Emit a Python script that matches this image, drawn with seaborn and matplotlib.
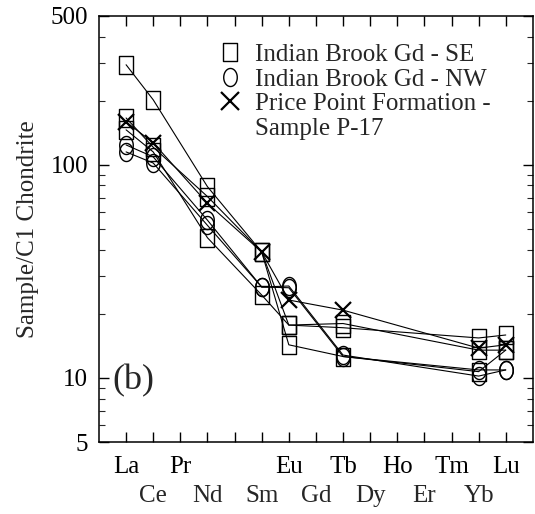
import numpy as np
import pandas as pd
import matplotlib
matplotlib.use("Agg")
import matplotlib.pyplot as plt
from matplotlib.path import Path
from matplotlib.lines import Line2D
import seaborn as sns

# ---- data ----
elements = ["La", "Ce", "Pr", "Nd", "Pm", "Sm", "Eu", "Gd", "Tb", "Dy", "Ho", "Er", "Tm", "Yb", "Lu"]
top_row_labels = ["La", "", "Pr", "", "", "", "Eu", "", "Tb", "", "Ho", "", "Tm", "", "Lu"]
bottom_row_labels = ["Ce", "Nd", "Sm", "Gd", "Dy", "Er", "Yb"]
measured = ["La", "Ce", "Nd", "Sm", "Eu", "Tb", "Yb", "Lu"]

se_a = [295, 202, 79, 39, 17.7, 17.2, 15.4, 15.9]
se_b = [166, 121, 71, 39, 14.3, 12.6, 10.7, 13.5]
se_c = [146, 115, 45.5, 24.5, 17.7, 18.0, 13.5, 13.5]
nw_1 = [124, 109, 55, 26.7, 26.5, 12.6, 10.9, 10.9]
nw_2 = [115, 102, 52, 26.7, 27.0, 12.8, 10.2, 10.9]
pp_17 = [159, 127, 66, 39, 23.2, 20.8, 13.8, 14.3]

groups = ["Indian Brook Gd - SE", "Indian Brook Gd - NW", "Price Point Formation -"]
samples = {
    "SE-a": (groups[0], se_a),
    "SE-b": (groups[0], se_b),
    "SE-c": (groups[0], se_c),
    "NW-1": (groups[1], nw_1),
    "NW-2": (groups[1], nw_2),
    "P-17": (groups[2], pp_17),
}

rows = []
for name, (grp, vals) in samples.items():
    for el, v in zip(measured, vals):
        rows.append({"sample": name, "group": grp, "pos": elements.index(el) + 1, "value": v})
df = pd.DataFrame(rows)

# ---- style ----
sns.set_style("ticks")
plt.rcParams["font.family"] = ["Liberation Serif", "DejaVu Serif"]

rect = Path([(-0.8, -1), (0.8, -1), (0.8, 1), (-0.8, 1), (-0.8, -1)],
            [Path.MOVETO, Path.LINETO, Path.LINETO, Path.LINETO, Path.CLOSEPOLY])
t = np.linspace(0, 2 * np.pi, 60)
ell = Path(np.column_stack([0.75 * np.cos(t), np.sin(t)]))

marker_for = {groups[0]: rect, groups[1]: ell, groups[2]: "x"}
size_for = {groups[0]: 13, groups[1]: 13, groups[2]: 11}
mew_for = {groups[0]: 1.0, groups[1]: 1.0, groups[2]: 1.6}

fig = plt.figure(figsize=(5.35, 5.14), dpi=100)
ax = fig.add_axes([0.185, 0.140, 0.811, 0.829])

for grp in groups:
    sub = df[df["group"] == grp]
    sns.lineplot(data=sub, x="pos", y="value", units="sample", estimator=None,
                 sort=False, color="black", lw=0.8, marker=marker_for[grp],
                 markersize=size_for[grp], markerfacecolor="none",
                 markeredgecolor="black", markeredgewidth=mew_for[grp],
                 legend=False, ax=ax)

ax.set_yscale("log")
ax.set_ylim(5, 500)
ax.set_xlim(0, 16)
ax.set_yticks([5, 10, 100, 500])
ax.set_yticklabels(["5", "10", "100", "500"])
ax.yaxis.set_minor_formatter(matplotlib.ticker.NullFormatter())

# x: major ticks at every element (top-row labels), minor ticks carry bottom-row labels
ax.xaxis.remove_overlapping_locs = False
ax.set_xticks(range(1, 16))
ax.set_xticklabels(top_row_labels)
ax.set_xticks([2, 4, 6, 8, 10, 12, 14], minor=True)
ax.set_xticklabels(bottom_row_labels, minor=True)
ax.set_xlabel("")
ax.set_ylabel("Sample/C1 Chondrite", fontsize=18, labelpad=8)

ax.tick_params(axis="both", which="major", direction="in", top=True, right=True,
               labelsize=18, length=7, width=1, pad=8, colors="black")
ax.tick_params(axis="y", which="minor", direction="in", left=True, right=True,
               length=4, width=0.8)
ax.tick_params(axis="x", which="major", pad=10)
ax.tick_params(axis="x", which="minor", length=0, pad=31, labelsize=18,
               bottom=True, top=False)
for s in ax.spines.values():
    s.set_linewidth(1.1)
    s.set_color("black")

ax.text(0.032, 0.105, "(b)", transform=ax.transAxes, fontsize=26, ha="left", va="bottom")

handles = [
    Line2D([], [], ls="none", marker=rect, markersize=13, mfc="none", mec="black", mew=1.0),
    Line2D([], [], ls="none", marker=ell, markersize=13, mfc="none", mec="black", mew=1.0),
    Line2D([], [], ls="none", marker="x", markersize=13, mec="black", mew=1.6),
    Line2D([], [], ls="none", marker=None),
]
labels = groups + ["Sample P-17"]
ax.legend(handles, labels, loc="upper left", bbox_to_anchor=(0.277, 0.935),
          frameon=False, fontsize=18, handlelength=0.9, handletextpad=0.55,
          labelspacing=0.08, borderpad=0, borderaxespad=0)

fig.savefig("out.png", dpi=100)
